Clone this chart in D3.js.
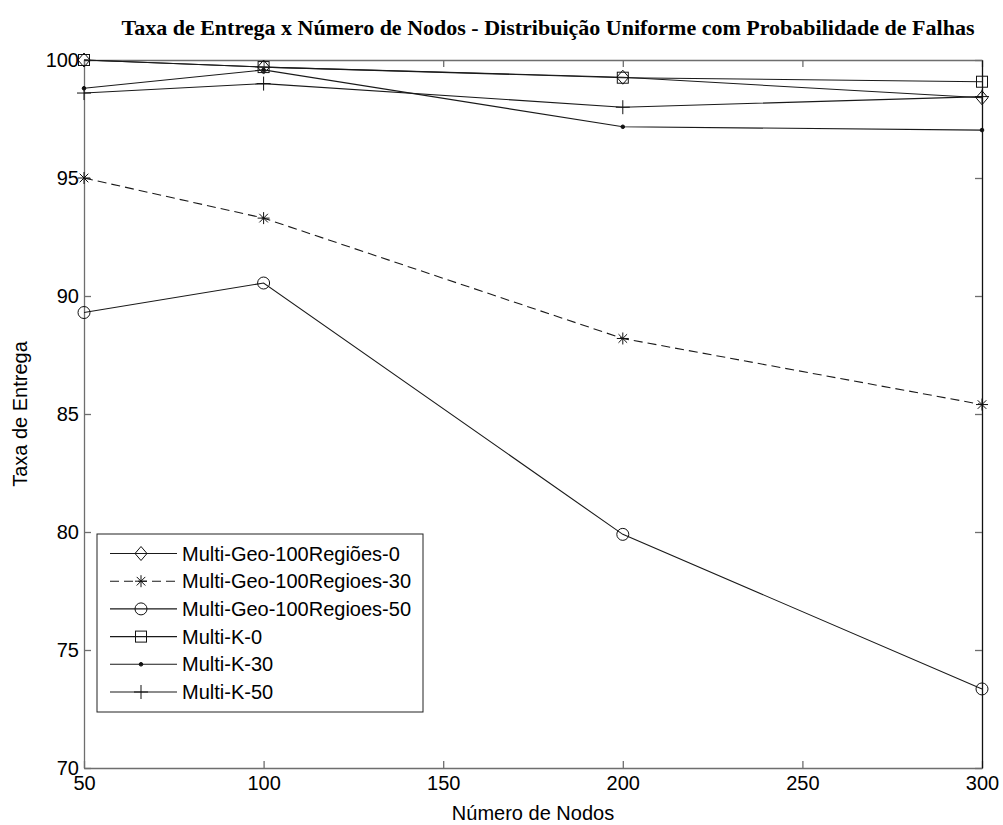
<!DOCTYPE html>
<html>
<head>
<meta charset="utf-8">
<script src="https://cdn.jsdelivr.net/npm/d3@7"></script>
<style>
body{margin:0;background:#fff;}
svg text{font-family:"Liberation Sans",Arial,sans-serif;}
</style>
</head>
<body>
<div id="chart"></div>
<script>
var nodos = [50, 100, 200, 300];
var xTicks = [50, 100, 150, 200, 250, 300];
var yTicks = [70, 75, 80, 85, 90, 95, 100];

var geo0 = [100, 99.7, 99.27, 98.4];
var geo30 = [95.0, 93.3, 88.2, 85.4];
var geo50 = [89.3, 90.55, 79.9, 73.35];
var k0 = [100, 99.7, 99.25, 99.08];
var k30 = [98.8, 99.58, 97.17, 97.03];
var k50 = [98.6, 99.0, 98.0, 98.45];

var seriesNames = ["Multi-Geo-100Regiões-0", "Multi-Geo-100Regioes-30", "Multi-Geo-100Regioes-50", "Multi-K-0", "Multi-K-30", "Multi-K-50"];
var seriesValues = [geo0, geo30, geo50, k0, k30, k50];
var seriesMarkers = ["diamond", "star", "circle", "square", "dot", "plus"];
var seriesDash = [null, "9,5", null, null, null, null];

var W = 1003, H = 825;
var margin = {top: 60, right: 21, bottom: 57, left: 84};
var w = W - margin.left - margin.right;
var h = H - margin.top - margin.bottom;

var svg = d3.select("#chart").append("svg")
	.attr("width", W)
	.attr("height", H);

var x = d3.scaleLinear().domain([50, 300]).range([margin.left, margin.left + w]);
var y = d3.scaleLinear().domain([70, 100]).range([margin.top + h, margin.top]);

// title
svg.append("text")
	.attr("x", 548)
	.attr("y", 35)
	.attr("text-anchor", "middle")
	.style("font-family", "'Liberation Serif','Times New Roman',serif")
	.style("font-weight", "bold")
	.style("font-size", "22px")
	.text("Taxa de Entrega x Número de Nodos - Distribuição Uniforme com Probabilidade de Falhas");

var axisCol = "#6e6e6e";
var tl = 7;

// axes (matlab style ticks pointing in, on all sides)
var bottomAx = svg.append("g")
	.attr("transform", "translate(0," + (margin.top + h) + ")")
	.call(d3.axisBottom(x).tickValues(xTicks).tickSizeInner(-tl).tickSizeOuter(0).tickPadding(8));
var topAx = svg.append("g")
	.attr("transform", "translate(0," + margin.top + ")")
	.call(d3.axisTop(x).tickValues(xTicks).tickSizeInner(-tl).tickSizeOuter(0).tickFormat(""));
var leftAx = svg.append("g")
	.attr("transform", "translate(" + margin.left + ",0)")
	.call(d3.axisLeft(y).tickValues(yTicks).tickSizeInner(-tl).tickSizeOuter(0).tickPadding(5));
var rightAx = svg.append("g")
	.attr("transform", "translate(" + (margin.left + w) + ",0)")
	.call(d3.axisRight(y).tickValues(yTicks).tickSizeInner(-tl).tickSizeOuter(0).tickFormat(""));

[bottomAx, topAx, leftAx, rightAx].forEach(function(g){
	g.select(".domain").attr("stroke", axisCol).attr("stroke-width", 1.3);
	g.selectAll(".tick line").attr("stroke", axisCol).attr("stroke-width", 1.3);
	g.selectAll(".tick text").attr("fill", "#000").style("font-size", "20px").style("font-family", "'Liberation Sans',Arial,sans-serif");
});
rightAx.select(".domain").attr("stroke", "#111");
bottomAx.selectAll(".tick text").attr("dy", "0.71em");

svg.append("text")
	.attr("x", 533)
	.attr("y", 820)
	.attr("text-anchor", "middle")
	.style("font-size", "20px")
	.text("Número de Nodos");

svg.append("text")
	.attr("transform", "translate(27," + (margin.top + h / 2) + ") rotate(-90)")
	.attr("text-anchor", "middle")
	.style("font-size", "20px")
	.text("Taxa de Entrega");

function drawMarker(g, type, cx, cy){
	var s = g.append("g").attr("transform", "translate(" + cx + "," + cy + ")")
		.attr("fill", "none").attr("stroke", "#111").attr("stroke-width", 1);
	if(type == "diamond"){
		s.append("path").attr("d", "M0,-7L6,0L0,7L-6,0Z");
	} else if(type == "circle"){
		s.append("circle").attr("r", 6);
	} else if(type == "square"){
		s.append("rect").attr("x", -5.5).attr("y", -5.5).attr("width", 11).attr("height", 11);
	} else if(type == "dot"){
		s.append("circle").attr("r", 1.8).attr("fill", "#111");
	} else if(type == "plus"){
		s.append("path").attr("d", "M-7,0H7M0,-7V7");
	} else if(type == "star"){
		s.append("path").attr("d", "M-6,0H6M0,-6V6M-4.3,-4.3L4.3,4.3M-4.3,4.3L4.3,-4.3");
	}
}

var line = d3.line()
	.x(function(d, i){ return x(nodos[i]); })
	.y(function(d){ return y(d); });

var plot = svg.append("g");
seriesValues.forEach(function(vals, k){
	plot.append("path")
		.attr("d", line(vals))
		.attr("fill", "none")
		.attr("stroke", "#1a1a1a")
		.attr("stroke-width", 1.1)
		.attr("stroke-dasharray", seriesDash[k]);
	vals.forEach(function(v, i){
		drawMarker(plot, seriesMarkers[k], x(nodos[i]), y(v));
	});
});

// legend
var leg = svg.append("g").attr("transform", "translate(97,534)");
leg.append("rect")
	.attr("width", 326)
	.attr("height", 178)
	.attr("fill", "#fff")
	.attr("stroke", "#222")
	.attr("stroke-width", 1);
seriesNames.forEach(function(name, k){
	var ly = 19.5 + k * 27.7;
	leg.append("line")
		.attr("x1", 13).attr("x2", 80)
		.attr("y1", ly).attr("y2", ly)
		.attr("stroke", "#1a1a1a")
		.attr("stroke-width", 1.1)
		.attr("stroke-dasharray", seriesDash[k]);
	drawMarker(leg, seriesMarkers[k], 44, ly);
	leg.append("text")
		.attr("x", 85)
		.attr("y", ly)
		.attr("dy", "0.35em")
		.style("font-size", "20px")
		.text(name);
});
</script>
</body>
</html>
